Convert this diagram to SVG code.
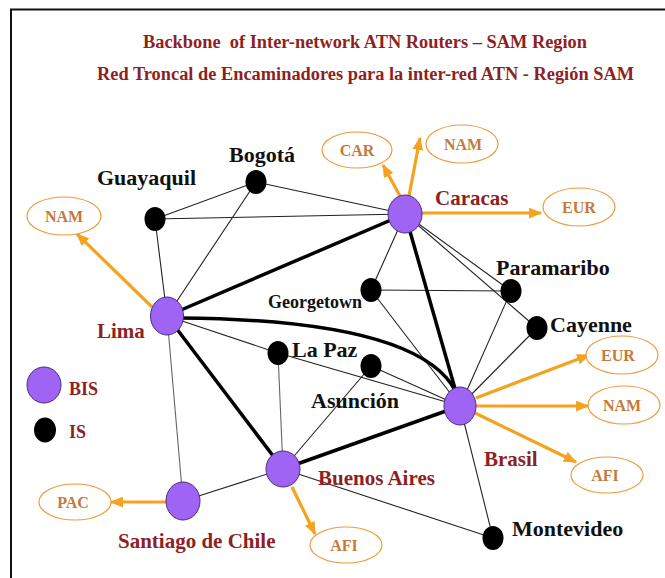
<svg xmlns="http://www.w3.org/2000/svg" width="665" height="578" viewBox="0 0 665 578">
<style>
.frame{stroke:#111;stroke-width:2;fill:none}
.title{font-family:"Liberation Serif","Times New Roman",serif;font-weight:bold;font-size:18px;fill:#8E1F23}
.lbl{font-family:"Liberation Serif","Times New Roman",serif;font-weight:bold;font-size:22px;fill:#111}
.rlbl{font-family:"Liberation Serif","Times New Roman",serif;font-weight:bold;font-size:21px;fill:#8E1F23}
.ext{font-family:"Liberation Serif","Times New Roman",serif;font-weight:bold;font-size:16px;fill:#C47A3A;text-anchor:middle}
.bis{fill:#A064F5;stroke:#4B2C7A;stroke-width:1}
.is{fill:#000}
.extnode{fill:#fff;stroke:#EE9A3A;stroke-width:1.2}
.thin{stroke:#222;stroke-width:1.1;fill:none}
.gray{stroke:#666;stroke-width:1.1;fill:none}
.thick{stroke:#000;stroke-width:3.5;fill:none}
.arr{stroke:#F5A21E;stroke-width:3.2;fill:none;marker-end:url(#ah)}
</style>
<defs>
<marker id="ah" viewBox="0 0 12 10" refX="11" refY="5" markerWidth="13" markerHeight="11" markerUnits="userSpaceOnUse" orient="auto">
<path d="M0,0 L12,5 L0,10 z" fill="#F5A21E"/>
</marker>
</defs>
<rect width="665" height="578" fill="#fff"/>
<path class="frame" d="M11,578 L11,9.5 L665,9.5"/>
<g id="title">
<text class="title" x="143" y="48" textLength="444" lengthAdjust="spacingAndGlyphs" xml:space="preserve">Backbone  of Inter-network ATN Routers – SAM Region</text>
<text class="title" x="97" y="80" textLength="537" lengthAdjust="spacingAndGlyphs">Red Troncal de Encaminadores para la inter-red ATN - Región SAM</text>
</g>
<g id="connectors">
<line class="thin" x1="155" y1="219" x2="256" y2="182"/>
<line class="thin" x1="155" y1="219" x2="405" y2="214"/>
<line class="thin" x1="256" y1="182" x2="405" y2="214"/>
<line class="thin" x1="155" y1="219" x2="167" y2="316"/>
<line class="thin" x1="256" y1="182" x2="167" y2="316"/>
<line class="thin" x1="405" y1="214" x2="371" y2="290"/>
<line class="thin" x1="405" y1="214" x2="511" y2="291"/>
<line class="thin" x1="405" y1="214" x2="537" y2="328"/>
<line class="thin" x1="371" y1="290" x2="511" y2="291"/>
<line class="thin" x1="371" y1="290" x2="460" y2="406"/>
<line class="thin" x1="511" y1="291" x2="460" y2="406"/>
<line class="thin" x1="537" y1="328" x2="460" y2="406"/>
<line class="thin" x1="167" y1="316" x2="278" y2="353"/>
<line class="thin" x1="278" y1="353" x2="460" y2="406"/>
<line class="thin" x1="371" y1="366" x2="460" y2="406"/>
<line class="thin" x1="371" y1="366" x2="283" y2="469"/>
<line class="gray" x1="278" y1="353" x2="283" y2="469"/>
<line class="gray" x1="167" y1="316" x2="183" y2="501"/>
<line class="thin" x1="183" y1="501" x2="283" y2="469"/>
<line class="thin" x1="283" y1="469" x2="493" y2="538"/>
<line class="thin" x1="460" y1="406" x2="493" y2="538"/>
<line class="thick" x1="167" y1="316" x2="405" y2="214"/>
<path class="thick" d="M180,318 Q420,320 456,392"/>
<line class="thick" x1="167" y1="316" x2="283" y2="469"/>
<line class="thick" x1="405" y1="214" x2="460" y2="406"/>
<line class="thick" x1="283" y1="469" x2="460" y2="406"/>
<line class="arr" x1="152" y1="307" x2="77" y2="234"/>
<line class="arr" x1="400" y1="196" x2="383" y2="165"/>
<line class="arr" x1="409" y1="196" x2="420" y2="138"/>
<line class="arr" x1="422" y1="213" x2="541" y2="213"/>
<line class="arr" x1="476" y1="398" x2="589" y2="355"/>
<line class="arr" x1="476" y1="406" x2="588" y2="406"/>
<line class="arr" x1="475" y1="413" x2="576" y2="462"/>
<line class="arr" x1="292" y1="487" x2="315" y2="534"/>
<line class="arr" x1="167" y1="502" x2="111" y2="502"/>
</g>
<g id="ext-nodes">
<g id="lima-nam"><ellipse class="extnode" cx="64" cy="216" rx="37" ry="19"/><text class="ext" x="64" y="222">NAM</text></g>
<g id="car"><ellipse class="extnode" cx="357" cy="150" rx="35" ry="18"/><text class="ext" x="357" y="156">CAR</text></g>
<g id="caracas-nam"><ellipse class="extnode" cx="462" cy="144" rx="36" ry="19"/><text class="ext" x="463" y="150">NAM</text></g>
<g id="caracas-eur"><ellipse class="extnode" cx="579" cy="207" rx="36" ry="19"/><text class="ext" x="579" y="213">EUR</text></g>
<g id="brasil-eur"><ellipse class="extnode" cx="622" cy="355" rx="36" ry="19"/><text class="ext" x="618" y="361">EUR</text></g>
<g id="brasil-nam"><ellipse class="extnode" cx="624" cy="405" rx="36" ry="19"/><text class="ext" x="622" y="411">NAM</text></g>
<g id="brasil-afi"><ellipse class="extnode" cx="607" cy="475" rx="36" ry="18"/><text class="ext" x="605" y="481">AFI</text></g>
<g id="ba-afi"><ellipse class="extnode" cx="346" cy="545" rx="36" ry="18"/><text class="ext" x="344" y="551">AFI</text></g>
<g id="pac"><ellipse class="extnode" cx="75" cy="502" rx="36" ry="18"/><text class="ext" x="73" y="508">PAC</text></g>
</g>
<g id="lima"><ellipse class="bis" cx="167" cy="316" rx="16.5" ry="19"/><text class="rlbl" x="97" y="338">Lima</text></g>
<g id="caracas"><ellipse class="bis" cx="405" cy="214" rx="17" ry="19"/><text class="rlbl" x="435" y="205">Caracas</text></g>
<g id="brasil"><ellipse class="bis" cx="460" cy="406" rx="16" ry="19"/><text class="rlbl" x="484" y="466">Brasil</text></g>
<g id="buenos-aires"><ellipse class="bis" cx="283" cy="469" rx="17" ry="18"/><text class="rlbl" x="318" y="485">Buenos Aires</text></g>
<g id="santiago"><ellipse class="bis" cx="183" cy="501" rx="17" ry="19"/><text class="rlbl" x="118" y="548">Santiago de Chile</text></g>
<g id="bogota"><ellipse class="is" cx="256" cy="182" rx="10.5" ry="12"/><text class="lbl" x="229" y="162">Bogotá</text></g>
<g id="guayaquil"><ellipse class="is" cx="155" cy="219" rx="10.5" ry="12"/><text class="lbl" x="97" y="185">Guayaquil</text></g>
<g id="georgetown"><ellipse class="is" cx="371" cy="290" rx="10.5" ry="12"/><text class="lbl" x="268" y="308" style="font-size:18px">Georgetown</text></g>
<g id="paramaribo"><ellipse class="is" cx="511" cy="291" rx="10.5" ry="12"/><text class="lbl" x="496" y="275">Paramaribo</text></g>
<g id="cayenne"><ellipse class="is" cx="537" cy="328" rx="10.5" ry="12"/><text class="lbl" x="550" y="332">Cayenne</text></g>
<g id="la-paz"><ellipse class="is" cx="278" cy="353" rx="10.5" ry="12"/><text class="lbl" x="292" y="357">La Paz</text></g>
<g id="asuncion"><ellipse class="is" cx="371" cy="366" rx="10.5" ry="12"/><text class="lbl" x="311" y="408">Asunción</text></g>
<g id="montevideo"><ellipse class="is" cx="493" cy="538" rx="10.5" ry="12"/><text class="lbl" x="512" y="536">Montevideo</text></g>
<g id="legend">
<ellipse class="bis" cx="44" cy="385" rx="17" ry="18"/>
<text class="rlbl" x="69" y="395" style="font-size:18px">BIS</text>
<ellipse class="is" cx="45" cy="430" rx="11" ry="12.5"/>
<text class="rlbl" x="69" y="438" style="font-size:18px">IS</text>
</g>
</svg>
